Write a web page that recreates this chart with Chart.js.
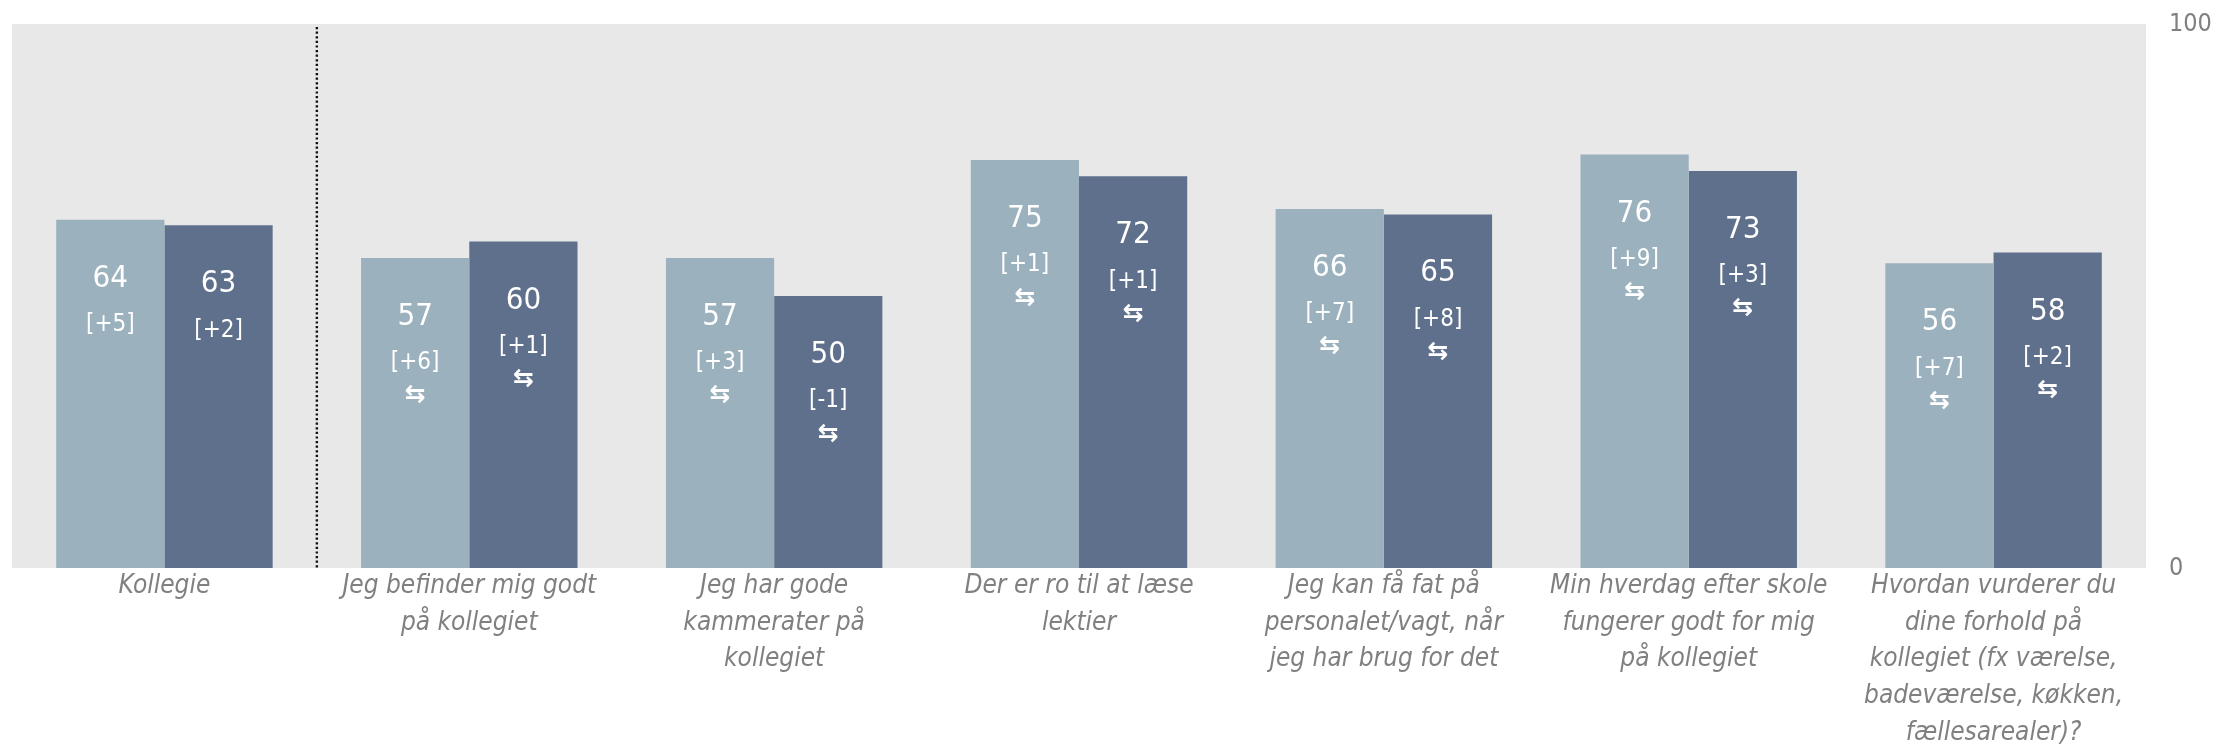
<!DOCTYPE html>
<html lang="da">
<head>
<meta charset="utf-8">
<title>Kollegie</title>
<script src="https://cdn.jsdelivr.net/npm/chart.js@4"></script>
<style>
  html, body { margin: 0; padding: 0; background: #fff; }
  #wrap { width: 2216px; height: 746px; }
</style>
</head>
<body>
<div id="wrap"><canvas id="kollegieChart" width="2216" height="746"></canvas></div>
<script>
// data
const categories = [
    ['Kollegie'],
    ['Jeg befinder mig godt', 'på kollegiet'],
    ['Jeg har gode', 'kammerater på', 'kollegiet'],
    ['Der er ro til at læse', 'lektier'],
    ['Jeg kan få fat på', 'personalet/vagt, når', 'jeg har brug for det'],
    ['Min hverdag efter skole', 'fungerer godt for mig', 'på kollegiet'],
    ['Hvordan vurderer du', 'dine forhold på', 'kollegiet (fx værelse,', 'badeværelse, køkken,', 'fællesarealer)?']
];
const seriesA = [64, 57, 57, 75, 66, 76, 56];
const seriesB = [63, 60, 50, 72, 65, 73, 58];
const changeA = ['+5', '+6', '+3', '+1', '+7', '+9', '+7'];
const changeB = ['+2', '+1', '-1', '+1', '+8', '+3', '+2'];
const showArrow = [false, true, true, true, true, true, true];
const yTicks = [0, 100];

const FONT = '"DejaVu Sans Condensed", "DejaVu Sans", sans-serif';

document.addEventListener('DOMContentLoaded', () => {
    const ctx = document.getElementById('kollegieChart').getContext('2d');

    // grey plot background + dotted separator after first category
    const backdrop = {
        id: 'backdrop',
        beforeDraw(chart) {
            const { ctx, chartArea: a } = chart;
            ctx.save();
            ctx.fillStyle = '#e8e8e8';
            ctx.fillRect(a.left, a.top, a.right - a.left, a.bottom - a.top);
            ctx.restore();
        },
        afterDatasetsDraw(chart) {
            const { ctx, chartArea: a, scales } = chart;
            const x = (scales.x.getPixelForValue(0) + scales.x.getPixelForValue(1)) / 2;
            ctx.save();
            ctx.strokeStyle = '#111';
            ctx.lineWidth = 2.4;
            ctx.setLineDash([2.2, 2.4]);
            ctx.beginPath();
            ctx.moveTo(x, a.top + 3);
            ctx.lineTo(x, a.bottom);
            ctx.stroke();
            ctx.restore();
        }
    };

    // value, [change] and arrow inside each bar
    const barText = {
        id: 'barText',
        afterDatasetsDraw(chart) {
            const c = chart.ctx;
            c.save();
            c.fillStyle = '#ffffff';
            c.textAlign = 'center';
            c.textBaseline = 'middle';
            chart.data.datasets.forEach((ds, di) => {
                const meta = chart.getDatasetMeta(di);
                const changes = di === 0 ? changeA : changeB;
                meta.data.forEach((bar, i) => {
                    const y0 = bar.y + 59;
                    c.font = '31px ' + FONT;
                    c.fillText(String(ds.data[i]), bar.x, y0);
                    c.font = '24px ' + FONT;
                    c.fillText('[' + changes[i] + ']', bar.x, y0 + 46);
                    if (showArrow[i]) {
                        c.font = 'bold 25px "DejaVu Sans", sans-serif';
                        c.fillText('\u21C6', bar.x, y0 + 79);
                    }
                });
            });
            c.restore();
        }
    };

    new Chart(ctx, {
        type: 'bar',
        data: {
            labels: categories,
            datasets: [{
                label: 'A',
                data: seriesA,
                backgroundColor: '#9bb2be',
                borderWidth: 0
            }, {
                label: 'B',
                data: seriesB,
                backgroundColor: '#5f708c',
                borderWidth: 0
            }]
        },
        options: {
            responsive: false,
            devicePixelRatio: 1,
            animation: false,
            datasets: {
                bar: { categoryPercentage: 0.71, barPercentage: 1.0 }
            },
            layout: { padding: { left: 12, top: 24, right: 0, bottom: 0 } },
            plugins: {
                legend: { display: false },
                tooltip: { enabled: false }
            },
            scales: {
                x: {
                    grid: { display: false, drawTicks: false },
                    border: { display: false },
                    ticks: {
                        color: '#808080',
                        padding: 0,
                        maxRotation: 0,
                        autoSkip: false,
                        font: { family: FONT, size: 26, style: 'italic', lineHeight: 1.41 }
                    },
                    afterFit(scale) {
                        scale.height = 178;
                        scale.paddingLeft = 0;
                        scale.paddingRight = 0;
                    }
                },
                y: {
                    position: 'right',
                    min: 0,
                    max: 100,
                    grid: { display: false, drawTicks: false },
                    border: { display: false },
                    afterBuildTicks(scale) {
                        scale.ticks = yTicks.map(v => ({ value: v }));
                    },
                    ticks: {
                        color: '#808080',
                        padding: 23,
                        font: { family: FONT, size: 25 }
                    },
                    afterFit(scale) {
                        scale.width = 70;
                        scale.paddingTop = 0;
                        scale.paddingBottom = 0;
                    }
                }
            }
        },
        plugins: [backdrop, barText]
    });
});
</script>
</body>
</html>
